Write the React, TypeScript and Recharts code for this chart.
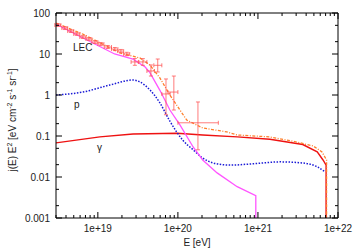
import React from 'react';
import { ComposedChart, Line, Scatter, ErrorBar, XAxis, YAxis } from 'recharts';

// axis ticks (log scales)
const xTicks = [
  3e18, 4e18, 5e18, 6e18, 7e18, 8e18, 9e18,
  1e19, 2e19, 3e19, 4e19, 5e19, 6e19, 7e19, 8e19, 9e19,
  1e20, 2e20, 3e20, 4e20, 5e20, 6e20, 7e20, 8e20, 9e20,
  1e21, 2e21, 3e21, 4e21, 5e21, 6e21, 7e21, 8e21, 9e21,
  1e22,
];
const xMajor = [1e19, 1e20, 1e21, 1e22];
const xLabels = ['1e+19', '1e+20', '1e+21', '1e+22'];

const yTicks = [0.001, 0.002, 0.005, 0.01, 0.02, 0.05, 0.1, 0.2, 0.5, 1, 2, 5, 10, 20, 50, 100];
const yMajor = [0.001, 0.01, 0.1, 1, 10, 100];
const yLabels = ['0.001', '0.01', '0.1', '1', '10', '100'];

// LEC (magenta)
const lecE = [3e18, 6.9e18, 1.62e19, 2.75e19, 3.9e19, 4.47e19, 5.96e19, 7.94e19, 1.06e20, 1.55e20, 2.04e20, 3.09e20, 5.5e20, 9.4e20, 9.4e20];
const lecJ = [54, 23.2, 10, 7.5, 4.8, 3.5, 1.3, 0.43, 0.186, 0.054, 0.026, 0.0126, 0.0058, 0.0035, 0.001];

// total fit (orange dash-dot)
const fitE = [3e18, 6.9e18, 1.88e19, 3.35e19, 4.47e19, 5.96e19, 7.94e19, 1.06e20, 1.29e20, 2.04e20, 4.07e20, 5.5e20, 1.41e21, 3.09e21, 4.9e21, 6.3e21, 7.2e21, 7.2e21, 7.2e21];
const fitJ = [57, 29, 10.6, 8.0, 5.4, 2.6, 1.0, 0.43, 0.245, 0.157, 0.126, 0.106, 0.095, 0.071, 0.057, 0.041, 0.026, 0.0177, 0.001];

// protons (blue dotted)
const pE = [3e18, 6.5e18, 1.41e19, 2.75e19, 3.35e19, 4.47e19, 5.96e19, 7.94e19, 1.15e20, 1.55e20, 2.04e20, 2.75e20, 4.47e20, 8.7e20, 1.88e21, 3.63e21, 5.5e21, 6.9e21];
const pJ = [1.0, 1.18, 1.75, 2.32, 2.08, 1.33, 0.64, 0.23, 0.079, 0.046, 0.029, 0.022, 0.0195, 0.021, 0.0234, 0.022, 0.0177, 0.0133];

// photons (red)
const gE = [3e18, 1.06e19, 2.75e19, 9.8e19, 2.04e20, 5.5e20, 1.41e21, 3.63e21, 5.5e21, 6.5e21, 7.1e21, 7.1e21];
const gJ = [0.068, 0.095, 0.112, 0.117, 0.106, 0.095, 0.083, 0.062, 0.041, 0.026, 0.0195, 0.001];

// measured points with bins and errors
const ptE = [3.16e18, 3.87e18, 4.6e18, 5.46e18, 6.5e18, 7.72e18, 9.18e18, 1.09e19, 1.33e19, 1.63e19, 1.94e19, 2.3e19, 2.9e19, 3.65e19, 4.6e19, 5.6e19, 7.1e19, 8.9e19, 1.78e20];
const ptELo = [2.9e18, 3.55e18, 4.2e18, 5.0e18, 5.95e18, 7.1e18, 8.4e18, 1.0e19, 1.2e19, 1.48e19, 1.78e19, 2.1e19, 2.6e19, 3.25e19, 4.1e19, 5.0e19, 6.3e19, 7.5e19, 1.0e20];
const ptEHi = [3.45e18, 4.2e18, 5.0e18, 5.95e18, 7.1e18, 8.4e18, 1.0e19, 1.19e19, 1.48e19, 1.78e19, 2.1e19, 2.5e19, 3.2e19, 4.1e19, 5.1e19, 6.3e19, 8.0e19, 1.0e20, 3.2e20];
const ptJ = [51, 43, 36.3, 30.8, 26, 23.2, 19.6, 17.5, 14.8, 13.2, 11.8, 10, 6.4, 6.4, 3.85, 5.3, 1.06, 1.18, 0.21];
const ptJLo = [47, 39.5, 33.5, 28.5, 24, 21.5, 18, 16, 13.6, 12.1, 10.8, 9.1, 5.3, 5.3, 2.9, 3.64, 0.33, 0.43, 0.046];
const ptJHi = [55, 46.5, 39, 33, 28, 25, 21.2, 19, 16.1, 14.4, 12.9, 11, 7.8, 7.7, 5.4, 7.55, 2.46, 2.9, 0.676];

const toRows = (es: number[], js: number[]) => es.map((E, i) => ({ E, J: js[i] }));
const lecData = toRows(lecE, lecJ);
const fitData = toRows(fitE, fitJ);
const pData = toRows(pE, pJ);
const gData = toRows(gE, gJ);
const ptData = ptE.map((E, i) => ({
  E,
  J: ptJ[i],
  ex: [E - ptELo[i], ptEHi[i] - E],
  ey: [ptJ[i] - ptJLo[i], ptJHi[i] - ptJ[i]],
}));

const FONT = 'Liberation Sans, Arial, Helvetica, sans-serif';
const tickText = { fontFamily: FONT, fontSize: 10, fill: '#222' };

const BottomTick = ({ x, y, payload }: any) => {
  const i = xMajor.indexOf(payload.value);
  return (
    <g>
      <line x1={x} x2={x} y1={y} y2={y - (i >= 0 ? 6 : 3)} stroke="#000" />
      {i >= 0 && <text x={x} y={y + 14} textAnchor="middle" {...tickText}>{xLabels[i]}</text>}
    </g>
  );
};

const TopTick = ({ x, y, payload }: any) => {
  const major = xMajor.includes(payload.value);
  return <line x1={x} x2={x} y1={y} y2={y + (major ? 6 : 3)} stroke="#000" />;
};

const LeftTick = ({ x, y, payload }: any) => {
  const i = yMajor.indexOf(payload.value);
  return (
    <g>
      <line x1={x} x2={x + (i >= 0 ? 6 : 3)} y1={y} y2={y} stroke="#000" />
      {i >= 0 && <text x={x - 6} y={y + 3.5} textAnchor="end" {...tickText}>{yLabels[i]}</text>}
    </g>
  );
};

const RightTick = ({ x, y, payload }: any) => {
  const major = yMajor.includes(payload.value);
  return <line x1={x} x2={x - (major ? 6 : 3)} y1={y} y2={y} stroke="#000" />;
};

const NoShape = () => <g />;

const App = () => {
  const sup = { fontSize: 7 };
  return (
    <div style={{ position: 'absolute', left: 0, top: 0, width: 356, height: 249 }}>
      <ComposedChart width={356} height={249} margin={{ top: 0, right: 0, bottom: 0, left: 0 }}>
        <XAxis xAxisId="b" dataKey="E" type="number" scale="log" domain={[3e18, 1e22]} allowDataOverflow
          ticks={xTicks} interval={0} tick={<BottomTick />} tickLine={false} tickSize={0} tickMargin={0}
          height={31} axisLine={{ stroke: '#000' }} />
        <XAxis xAxisId="t" orientation="top" dataKey="E" type="number" scale="log" domain={[3e18, 1e22]} allowDataOverflow
          ticks={xTicks} interval={0} tick={<TopTick />} tickLine={false} tickSize={0} tickMargin={0}
          height={13} axisLine={{ stroke: '#000' }} />
        <YAxis yAxisId="l" dataKey="J" type="number" scale="log" domain={[0.001, 100]} allowDataOverflow
          ticks={yTicks} interval={0} tick={<LeftTick />} tickLine={false} tickSize={0} tickMargin={0}
          width={56} axisLine={{ stroke: '#000' }} />
        <YAxis yAxisId="r" orientation="right" dataKey="J" type="number" scale="log" domain={[0.001, 100]} allowDataOverflow
          ticks={yTicks} interval={0} tick={<RightTick />} tickLine={false} tickSize={0} tickMargin={0}
          width={18} axisLine={{ stroke: '#000' }} />

        <Line xAxisId="b" yAxisId="l" data={gData} dataKey="J" type="linear" stroke="#ee1111" strokeWidth={1.4} dot={false} isAnimationActive={false} />
        <Line xAxisId="b" yAxisId="l" data={pData} dataKey="J" type="monotone" stroke="#1a1ad6" strokeWidth={1.5} strokeDasharray="1.5 1.5" dot={false} isAnimationActive={false} />
        <Line xAxisId="b" yAxisId="l" data={lecData} dataKey="J" type="linear" stroke="#ff55ff" strokeWidth={1.3} dot={false} isAnimationActive={false} />
        <Line xAxisId="b" yAxisId="l" data={fitData} dataKey="J" type="linear" stroke="#ff7f2a" strokeWidth={1.3} strokeDasharray="3 1.5 1 1.5" dot={false} isAnimationActive={false} />
        <Scatter xAxisId="b" yAxisId="l" data={ptData} dataKey="J" shape={<NoShape />} isAnimationActive={false}>
          <ErrorBar dataKey="ex" direction="x" width={2} stroke="#ff5050" strokeOpacity={0.75} strokeWidth={1} isAnimationActive={false} />
          <ErrorBar dataKey="ey" direction="y" width={2} stroke="#ff5050" strokeOpacity={0.75} strokeWidth={1} isAnimationActive={false} />
        </Scatter>
      </ComposedChart>
      <svg width={356} height={249} style={{ position: 'absolute', left: 0, top: 0, pointerEvents: 'none' }}>
        <g fontFamily={FONT} fontSize={10} fill="#222">
          <text x={73} y={51}>LEC</text>
          <text x={74} y={108}>p</text>
          <text x={97} y={151}>γ</text>
          <text x={197} y={246} textAnchor="middle">E [eV]</text>
          <text transform="rotate(-90)" x={-120} y={16} textAnchor="middle">
            j(E) E<tspan dy={-4} style={sup}>2</tspan>
            <tspan dy={4}> [eV cm</tspan><tspan dy={-4} style={sup}>-2</tspan>
            <tspan dy={4}> s</tspan><tspan dy={-4} style={sup}>-1</tspan>
            <tspan dy={4}> sr</tspan><tspan dy={-4} style={sup}>-1</tspan>
            <tspan dy={4}>]</tspan>
          </text>
        </g>
      </svg>
    </div>
  );
};

export default App;
